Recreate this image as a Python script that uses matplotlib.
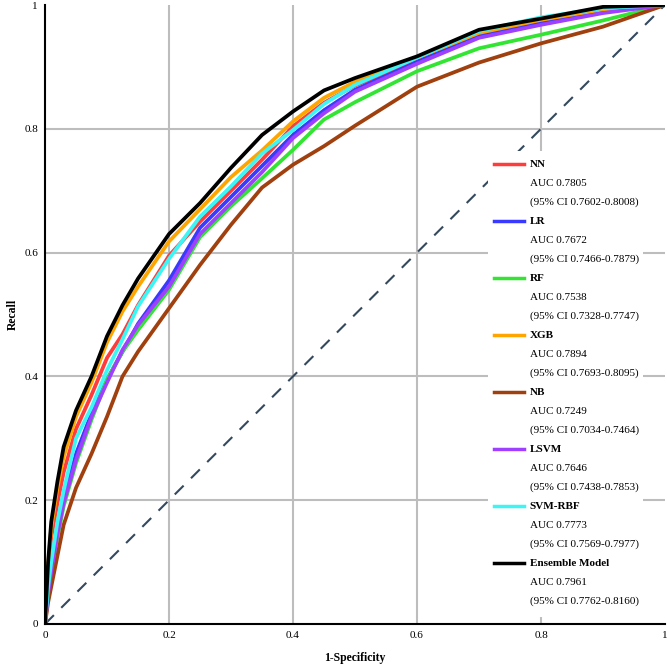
import numpy as np
import matplotlib.pyplot as plt
from matplotlib.patches import Rectangle

plt.rcParams['font.family'] = ['Liberation Serif', 'DejaVu Serif']

# false positive rate grid
fpr = [0, 0.005, 0.01, 0.02, 0.03, 0.05, 0.075, 0.1, 0.125, 0.15, 0.2, 0.25,
       0.3, 0.35, 0.4, 0.45, 0.5, 0.6, 0.7, 0.8, 0.9, 1.0]

tpr_nn = [0, 0.085, 0.14, 0.195, 0.245, 0.315, 0.37, 0.43, 0.468, 0.515, 0.595, 0.65,
          0.70, 0.75, 0.804, 0.842, 0.870, 0.910, 0.952, 0.972, 0.990, 1.0]
tpr_lr = [0, 0.055, 0.09, 0.15, 0.20, 0.275, 0.34, 0.395, 0.44, 0.485, 0.555, 0.64,
          0.69, 0.74, 0.790, 0.830, 0.863, 0.908, 0.950, 0.971, 0.990, 1.0]
tpr_rf = [0, 0.05, 0.08, 0.14, 0.19, 0.26, 0.33, 0.395, 0.44, 0.475, 0.54, 0.625,
          0.675, 0.72, 0.766, 0.815, 0.843, 0.893, 0.930, 0.952, 0.975, 1.0]
tpr_xgb = [0, 0.095, 0.155, 0.22, 0.27, 0.335, 0.39, 0.455, 0.505, 0.545, 0.618, 0.67,
           0.722, 0.765, 0.812, 0.850, 0.876, 0.915, 0.955, 0.976, 0.993, 1.0]
tpr_nb = [0, 0.035, 0.06, 0.11, 0.16, 0.22, 0.275, 0.335, 0.40, 0.44, 0.51, 0.58,
          0.645, 0.705, 0.742, 0.772, 0.805, 0.868, 0.907, 0.938, 0.965, 1.0]
tpr_lsvm = [0, 0.05, 0.085, 0.145, 0.195, 0.265, 0.335, 0.39, 0.443, 0.483, 0.545, 0.63,
            0.68, 0.73, 0.785, 0.825, 0.860, 0.905, 0.947, 0.968, 0.987, 1.0]
tpr_svm = [0, 0.06, 0.10, 0.165, 0.215, 0.30, 0.35, 0.41, 0.46, 0.513, 0.59, 0.658,
           0.707, 0.76, 0.798, 0.840, 0.871, 0.915, 0.958, 0.980, 0.995, 1.0]
tpr_ens = [0, 0.10, 0.165, 0.23, 0.286, 0.345, 0.40, 0.465, 0.515, 0.558, 0.63, 0.68,
           0.737, 0.79, 0.828, 0.862, 0.882, 0.917, 0.960, 0.978, 0.997, 1.0]

names = ['NN', 'LR', 'RF', 'XGB', 'NB', 'LSVM', 'SVM-RBF', 'Ensemble Model']
aucs = ['0.7805', '0.7672', '0.7538', '0.7894', '0.7249', '0.7646', '0.7773', '0.7961']
cis = ['0.7602-0.8008', '0.7466-0.7879', '0.7328-0.7747', '0.7693-0.8095',
       '0.7034-0.7464', '0.7438-0.7853', '0.7569-0.7977', '0.7762-0.8160']
tprs = [tpr_nn, tpr_lr, tpr_rf, tpr_xgb, tpr_nb, tpr_lsvm, tpr_svm, tpr_ens]
colors = ['#ff3b3b', '#3a3aff', '#33e533', '#ffa500', '#a0400e', '#a040ff', '#3cf5f5', '#000000']

fig = plt.figure(figsize=(6.67, 6.67), dpi=100)
ax = fig.add_axes([0.0675, 0.0645, 0.9295, 0.928])

for x in [0.2, 0.4, 0.6, 0.8]:
    ax.axvline(x, color='#bdbdbd', lw=1.5, zorder=0)
    ax.axhline(x, color='#bdbdbd', lw=1.5, zorder=0)

ax.plot([0, 1], [0, 1], color='#34495e', lw=1.5, dashes=(6, 5), zorder=1)

for t, c in zip(tprs, colors):
    ax.plot(fpr, t, color=c, lw=2.7, zorder=2)

ax.set_xlim(0, 1)
ax.set_ylim(0, 1)
ticks = [0, 0.2, 0.4, 0.6, 0.8, 1]
labels = ['0', '0.2', '0.4', '0.6', '0.8', '1']
ax.set_xticks(ticks)
ax.set_xticklabels(labels)
ax.set_yticks(ticks)
ax.set_yticklabels(labels)
ax.tick_params(length=0, labelsize=8, pad=5)
for s in ['top', 'right']:
    ax.spines[s].set_visible(False)
for s in ['left', 'bottom']:
    ax.spines[s].set_linewidth(1.5)
    ax.spines[s].set_zorder(3)
ax.set_xlabel('1-Specificity', fontsize=8.5, fontweight='bold', labelpad=9)
ax.set_ylabel('Recall', fontsize=8.5, fontweight='bold', labelpad=4)

# legend drawn by hand (bold name, then AUC and CI lines)
ax.add_patch(Rectangle((0.7145, 0.0113), 0.25, 0.7527, transform=ax.transAxes,
                       facecolor='white', edgecolor='none', zorder=4))
for i in range(len(names)):
    y0 = 0.7431 - 0.0921 * i
    ax.plot([0.724, 0.7726], [y0, y0], color=colors[i], lw=2.5,
            transform=ax.transAxes, zorder=5, clip_on=False)
    ax.text(0.782, y0, names[i], transform=ax.transAxes, fontsize=8,
            fontweight='bold', va='center', zorder=5)
    ax.text(0.782, y0 - 0.0307, 'AUC ' + aucs[i], transform=ax.transAxes,
            fontsize=8, va='center', zorder=5)
    ax.text(0.782, y0 - 0.0614, '(95% CI ' + cis[i] + ')', transform=ax.transAxes,
            fontsize=8, va='center', zorder=5)

fig.savefig('out.png', dpi=100)
